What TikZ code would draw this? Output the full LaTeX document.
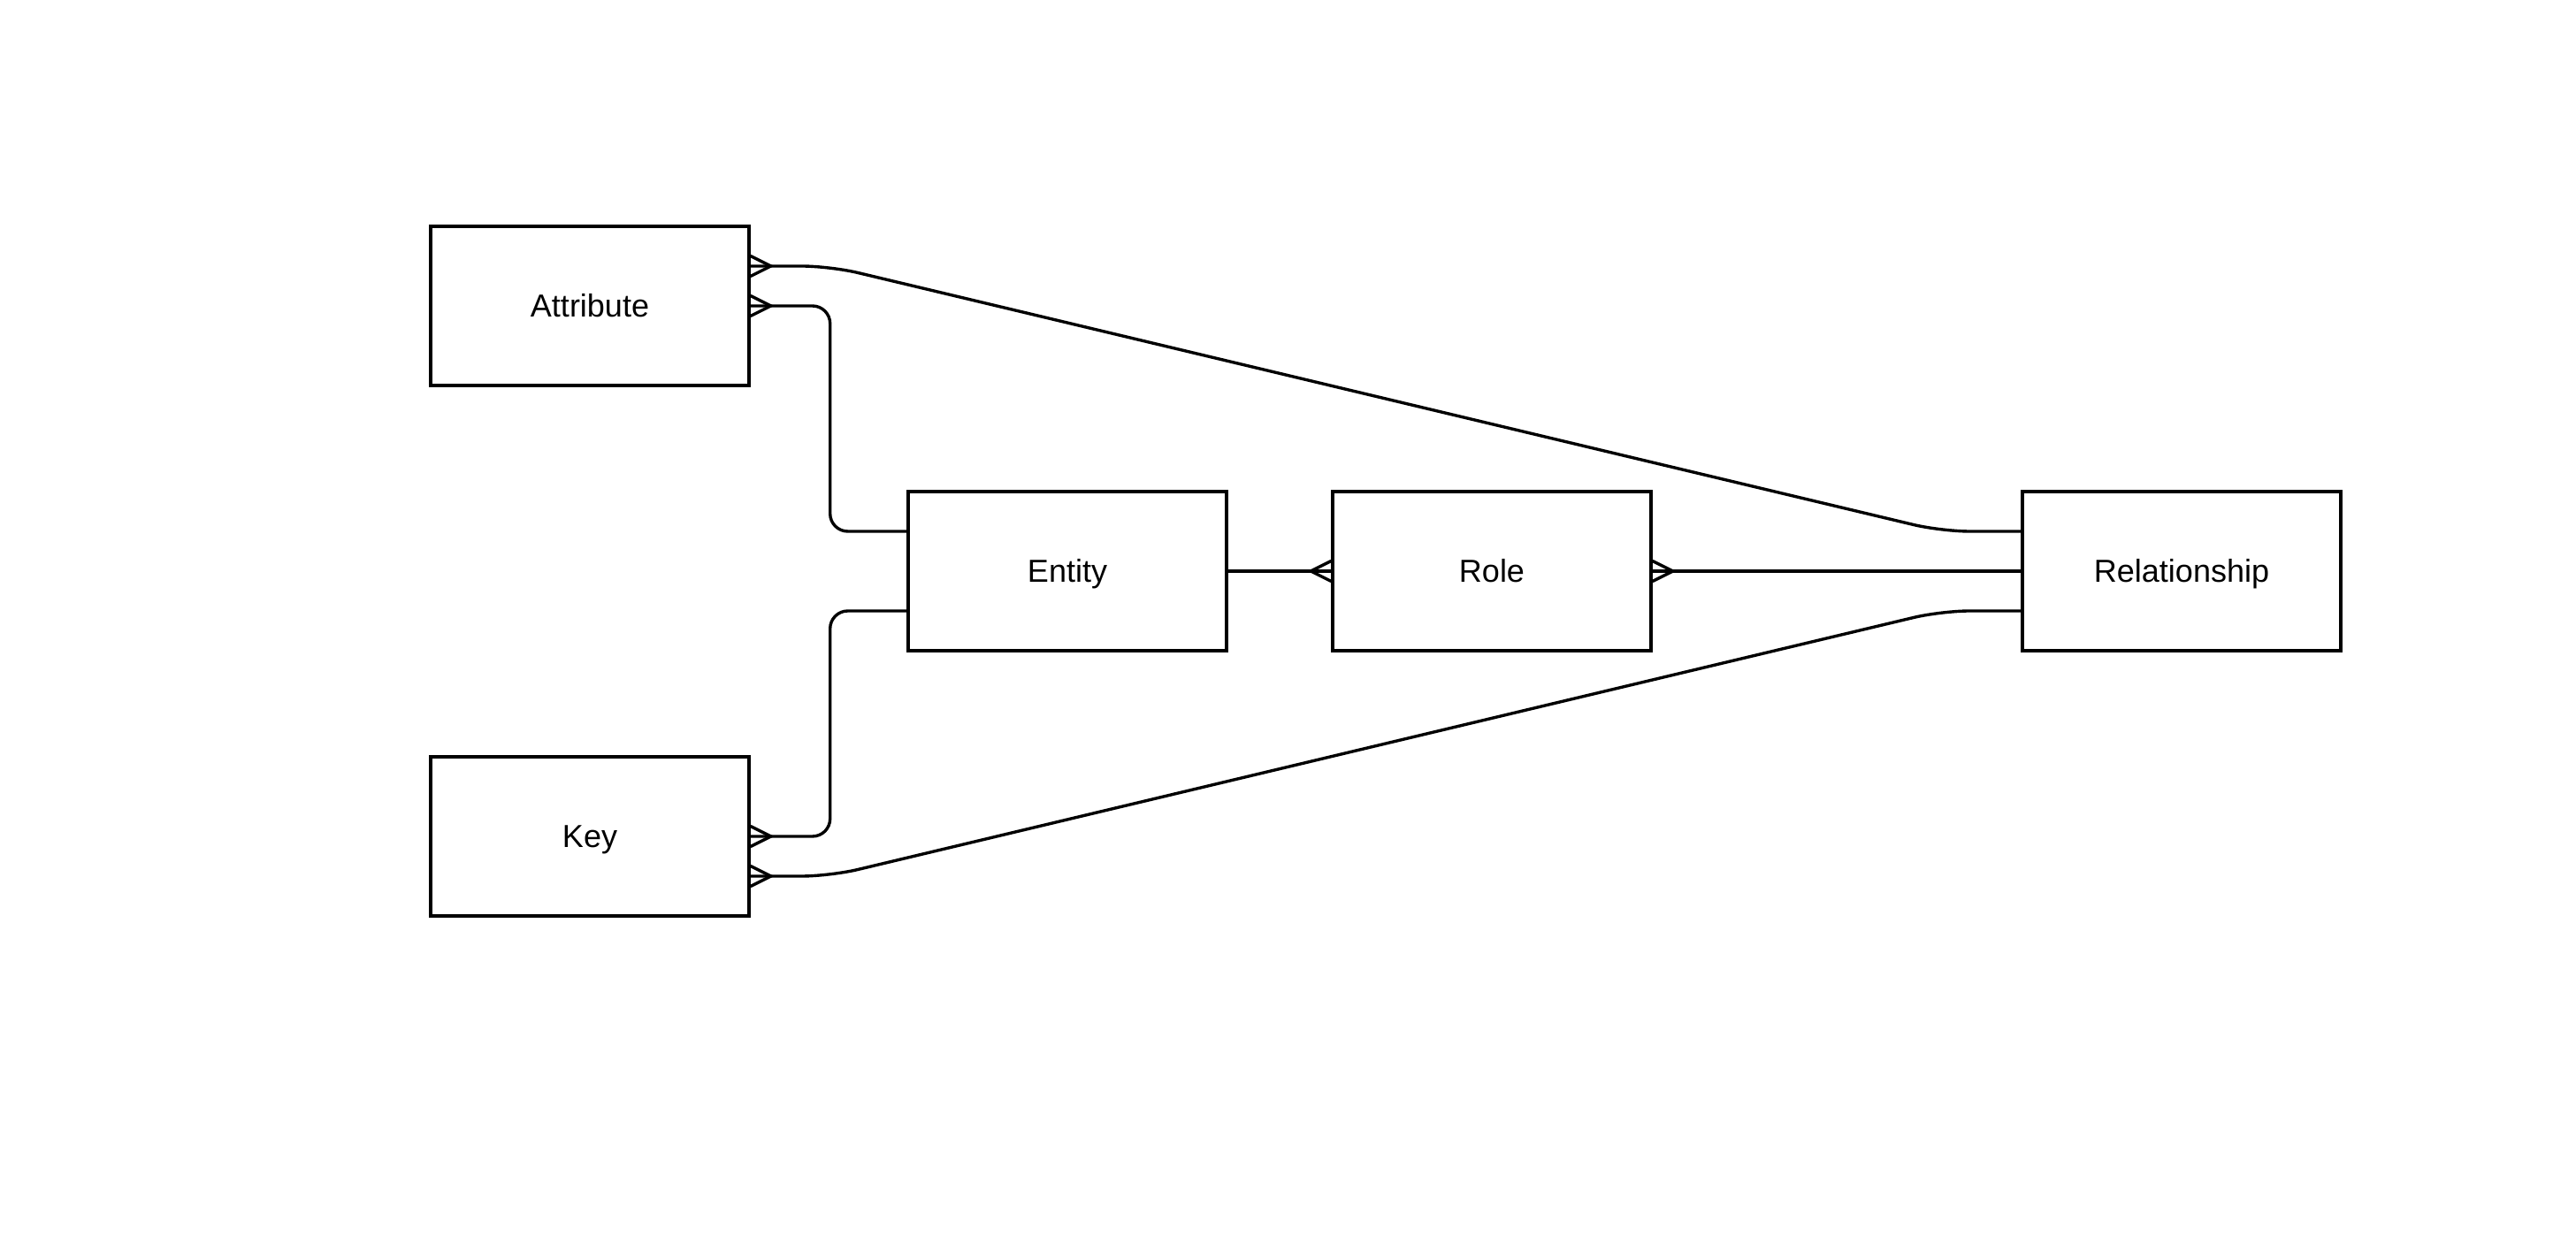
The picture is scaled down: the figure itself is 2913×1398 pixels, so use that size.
\documentclass[tikz,border=0pt]{standalone}
\usepackage{fontspec}
\setmainfont{Liberation Sans}
\usetikzlibrary{calc}
\begin{document}
\begin{tikzpicture}[x=0.25pt,y=-0.25pt,
  ent/.style={draw, line width=0.85pt, minimum width=90pt, minimum height=45pt,
    inner sep=0pt, text height=6.45pt, text depth=0pt, font=\fontsize{9}{11}\selectfont},
  link/.style={line width=0.85pt, rounded corners=5pt},
  slant/.style={link, rounded corners=8pt},
  crowR/.pic={\draw[line width=0.85pt, line join=miter] (0,-11.5) -- (23,0) -- (0,11.5);},
  crowL/.pic={\draw[line width=0.85pt, line join=miter] (0,-11.5) -- (-23,0) -- (0,11.5);}]
\useasboundingbox (0,0) rectangle (2913,1398);

% entities
\node[ent] (attr) at (667,346) {Attribute};
\node[ent] (ent)  at (1207,646) {Entity};
\node[ent] (role) at (1687,646) {Role};
\node[ent] (rel)  at (2467,646) {Relationship};
\node[ent] (key)  at (667,946) {Key};

% relationships
\draw[slant] ($(attr.east)+(0,-45)$) -- ++(90,0) -- ($(rel.west)+(-90,-45)$) -- ($(rel.west)+(0,-45)$);
\draw[link] (attr.east) -- ++(90,0) |- ($(ent.west)+(0,-45)$);
\draw[link] (key.east) -- ++(90,0) |- ($(ent.west)+(0,45)$);
\draw[slant] ($(key.east)+(0,45)$) -- ++(90,0) -- ($(rel.west)+(-90,45)$) -- ($(rel.west)+(0,45)$);
\draw[link] (ent.east) -- (role.west);
\draw[link] (role.east) -- (rel.west);

% many-side markers
\pic at ($(attr.east)+(0,-45)$) {crowR};
\pic at (attr.east) {crowR};
\pic at (key.east) {crowR};
\pic at ($(key.east)+(0,45)$) {crowR};
\pic at (role.west) {crowL};
\pic at (role.east) {crowR};
\end{tikzpicture}
\end{document}
